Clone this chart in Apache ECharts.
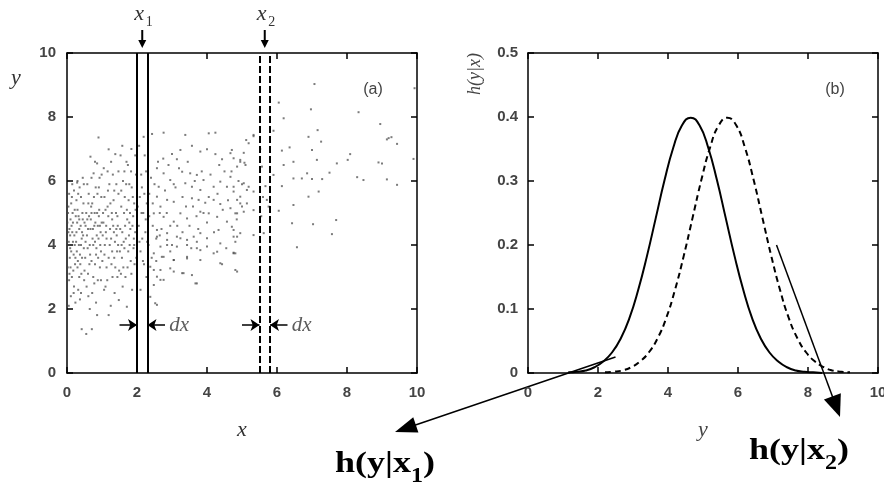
<!DOCTYPE html>
<html>
<head>
<meta charset="utf-8">
<script src="https://cdn.jsdelivr.net/npm/echarts/dist/echarts.min.js"></script>
<style>
  html, body { margin: 0; padding: 0; background: #fff; }
  #main { width: 884px; height: 486px; }
</style>
</head>
<body>
<div id="main"></div>
<script>
"use strict";

// panel (a): sample cloud
var cloudDense = [
  [0.05,4.1],[0.08,3.6],[0.1,4.8],[0.12,5.3],[0.06,2.9],[0.15,4.4],[0.18,3.2],[0.2,5.7],[0.22,4.0],[0.25,4.9],
  [0.28,3.8],[0.3,5.1],[0.32,2.6],[0.35,4.5],[0.38,3.4],[0.4,5.5],[0.42,4.2],[0.45,6.1],[0.48,3.9],[0.5,4.7],
  [0.03,5.0],[0.07,4.5],[0.09,3.9],[0.11,2.4],[0.13,4.6],[0.16,5.0],[0.19,3.7],[0.21,4.3],[0.24,2.2],[0.27,5.4],
  [0.29,4.7],[0.31,3.5],[0.34,4.0],[0.36,5.8],[0.39,4.6],[0.41,3.1],[0.44,5.0],[0.46,4.3],[0.49,2.9],[0.02,3.3],
  [0.04,4.4],[0.14,3.0],[0.17,4.7],[0.23,3.4],[0.26,4.1],[0.33,4.9],[0.37,3.7],[0.43,4.4],[0.47,5.3],[0.01,4.7],
  [0.06,5.6],[0.1,3.3],[0.2,2.7],[0.3,6.0],[0.4,2.5],[0.29,5.95],[0.42,1.37],[0.15,5.9],[0.05,2.1],[0.35,3.0],
  [0.02,4.0],[0.04,5.2],[0.07,3.1],[0.09,4.3],[0.12,3.8],[0.14,5.5],[0.17,4.1],[0.19,2.5],[0.22,5.1],[0.24,3.6],
  [0.27,4.4],[0.3,3.3],[0.32,5.6],[0.35,4.8],[0.37,2.3],[0.4,4.0],[0.43,3.6],[0.45,4.8],[0.48,5.9],[0.5,3.2],
  [0.52,3.6],[0.55,5.0],[0.57,4.3],[0.6,3.1],[0.62,5.6],[0.65,4.0],[0.67,6.76],[0.68,4.8],[0.7,3.5],[0.72,5.3],
  [0.74,4.5],[0.76,6.24],[0.78,2.8],[0.8,4.1],[0.82,5.8],[0.84,3.9],[0.86,6.55],[0.88,4.6],[0.9,7.36],[0.92,5.1],
  [0.94,3.3],[0.96,4.4],[0.98,5.5],[0.55,1.22],[0.71,1.37],[0.86,1.81],[0.53,4.6],[0.58,5.9],[0.61,2.4],[0.63,4.9],
  [0.66,3.7],[0.69,5.2],[0.73,4.2],[0.75,3.0],[0.79,5.0],[0.81,4.7],[0.83,2.2],[0.85,4.3],[0.87,5.6],[0.89,3.6],
  [0.91,4.9],[0.93,6.1],[0.95,4.0],[0.97,2.9],[0.99,4.7],[0.6,4.5],[0.7,6.1],[0.8,3.4],[0.9,4.2],[0.65,2.0],
  [0.77,5.5],[0.59,3.9],
  [0.53,4.1],[0.56,2.7],[0.58,4.8],[0.61,5.3],[0.64,3.4],[0.67,4.5],[0.7,5.0],[0.72,2.5],[0.75,4.0],[0.78,4.6],
  [0.8,6.6],[0.83,3.7],[0.86,5.0],[0.88,2.9],[0.91,5.8],[0.94,4.6],[0.97,3.8],[0.99,6.2],
  [1.02,4.3],[1.05,6.4],[1.07,3.7],[1.1,5.1],[1.12,4.6],[1.15,2.9],[1.17,5.7],[1.19,6.99],[1.19,1.81],[1.22,4.0],
  [1.24,5.3],[1.27,3.4],[1.29,4.8],[1.31,6.2],[1.34,4.4],[1.36,2.5],[1.38,6.84],[1.4,5.0],[1.43,3.8],[1.45,4.6],
  [1.47,5.6],[1.49,3.2],[1.03,5.0],[1.08,4.0],[1.13,3.3],[1.18,4.9],[1.21,5.9],[1.26,4.2],[1.3,3.0],[1.33,5.4],
  [1.37,4.1],[1.41,5.9],[1.44,4.9],[1.48,2.28],[1.06,2.6],[1.16,6.3],[1.25,2.1],[1.35,3.6],[1.42,4.3],[1.11,4.4],
  [1.28,5.0],[1.46,4.0],
  [1.01,3.5],[1.04,4.7],[1.07,5.5],[1.1,2.7],[1.13,4.2],[1.16,5.2],[1.19,3.6],[1.23,4.5],[1.26,6.6],[1.29,3.8],
  [1.32,4.6],[1.35,5.7],[1.38,3.3],[1.41,4.5],[1.44,3.0],[1.47,6.3],
  [1.52,4.5],[1.55,5.2],[1.57,3.6],[1.6,6.0],[1.62,4.1],[1.65,5.5],[1.67,3.0],[1.71,2.07],[1.72,4.8],[1.74,6.5],
  [1.77,4.3],[1.8,5.0],[1.82,3.5],[1.85,5.8],[1.87,4.6],[1.9,3.9],[1.92,5.3],[1.95,4.4],[1.97,6.2],[1.53,6.8],
  [1.56,4.0],[1.59,2.7],[1.63,5.0],[1.66,4.6],[1.69,5.9],[1.73,3.3],[1.76,5.4],[1.79,4.0],[1.83,6.3],[1.86,2.6],
  [1.89,4.9],[1.93,3.4],[1.96,5.1],[1.58,7.1],[1.7,6.6],[1.84,7.0],[1.64,3.9],[1.78,4.7],[1.91,4.2],[1.54,3.1],
  [1.51,3.8],[1.55,5.7],[1.58,4.4],[1.61,3.3],[1.64,6.3],[1.68,4.2],[1.71,5.1],[1.75,3.8],[1.78,5.9],[1.81,4.5],
  [1.84,3.1],[1.88,5.5],[1.92,4.0],[1.95,6.8],[1.98,3.6],
  [2.05,4.6],[2.08,5.5],[2.1,3.8],[2.12,6.2],[2.15,4.2],[2.18,5.0],[2.2,3.4],[2.22,6.8],[2.25,4.8],[2.27,3.0],
  [2.19,7.38],[2.06,7.1],[2.14,5.8],[2.24,4.4],[2.1,2.6],[2.28,5.3],
  [2.02,5.2],[2.07,4.1],[2.13,5.0],[2.17,3.5],[2.21,5.6],[2.26,6.3],[2.29,4.1]
];

var cloudMiddle = [
  [2.43,7.47],[2.76,7.51],[3.38,7.44],[4.05,7.49],[4.24,7.51],[5.33,7.44],[5.19,7.18],[3.57,7.1],[3.24,6.97],
  [3.0,6.84],[3.14,6.68],[3.81,6.92],[4.0,6.99],[4.24,6.84],[4.43,6.68],[4.67,6.87],[4.76,6.71],[4.95,6.6],
  [5.1,6.5],[2.57,6.4],[2.76,6.24],[2.95,6.03],[2.62,5.82],[3.29,6.29],[3.52,6.24],[3.71,6.19],[3.9,6.03],
  [3.38,5.93],[3.57,5.82],[3.81,5.72],[4.19,5.82],[4.38,5.98],[4.57,5.82],[4.76,5.67],[4.95,5.51],[5.19,5.82],
  [5.33,5.67],[2.57,5.51],[2.86,5.41],[3.05,5.35],[2.67,5.2],[3.57,5.46],[3.76,5.41],[3.95,5.32],[4.19,5.41],
  [4.38,5.28],[3.81,5.04],[4.05,4.99],[4.29,4.88],[4.67,5.15],[4.86,4.99],[4.95,5.3],[3.24,4.99],[3.43,4.83],
  [3.05,4.73],[2.76,4.88],[2.48,4.99],[4.57,4.73],[4.76,4.47],[4.95,4.37],[4.33,4.47],[3.81,4.37],[4.0,4.21],
  [2.57,4.47],[2.86,4.37],[3.14,4.26],[3.43,4.16],[3.71,4.1],[2.57,4.26],[2.86,4.16],[3.24,4.21],[3.62,4.26],
  [4.38,4.05],[4.76,4.26],[2.48,3.74],[2.76,3.63],[3.05,3.53],[3.43,3.63],[3.81,3.84],[4.19,3.74],[4.76,3.74],
  [4.43,3.4],[4.86,3.17],[2.38,3.32],[2.67,3.22],[2.95,3.27],[3.29,3.12],[3.57,3.06],[3.71,2.8],[2.48,2.75],
  [2.67,2.91],[2.57,2.13],[2.38,2.38],[2.67,3.95],[2.86,4.0],[3.14,3.95],[3.43,4.0],[3.71,3.9],[4.0,3.95],
  [4.29,3.79],[4.81,3.74],[2.71,3.63],[3.05,3.53],[3.43,3.58],[3.81,3.53],[4.38,3.43],[4.81,3.22],[2.48,3.22],
  [3.05,3.17],[3.33,3.12],[3.67,2.8],[2.57,3.01],[2.76,2.91],[2.52,2.18],
  [2.35,5.6],[2.4,6.1],[2.45,4.6],[2.5,5.9],[2.55,4.2],[2.6,6.6],[2.65,5.0],[2.7,4.5],[2.8,5.7],[2.9,6.5],
  [2.95,4.6],[3.1,5.8],[3.2,6.4],[3.3,5.5],[3.45,6.6],[3.6,5.2],[3.7,4.9],[3.85,6.3],[4.1,6.2],[4.3,5.6],
  [4.5,6.3],[4.6,5.4],[2.33,4.0],[2.42,3.6],[3.0,4.0],[3.5,4.6],[4.0,4.7],[4.9,6.0],[5.0,5.9],
  [2.35,4.9],[2.45,5.3],[2.55,3.5],[2.65,4.3],[2.75,6.7],[2.85,5.0],[2.95,3.8],[3.05,5.9],[3.15,4.6],[3.3,4.4],
  [3.4,5.2],[3.55,3.9],[3.65,6.0],[3.75,4.5],[3.9,5.0],[4.05,5.5],[4.2,4.4],[4.35,6.5],[4.45,5.1],[4.55,3.9],
  [4.7,6.3],[4.85,4.8]
];

var cloudSparse = [
  [7.07,9.03],[6.05,8.45],[6.97,8.24],[8.33,8.15],[6.19,7.96],[8.95,7.78],[7.16,7.59],[6.9,7.38],[9.14,7.3],
  [9.27,7.37],[9.43,7.16],[7.26,7.23],[6.36,7.05],[6.14,6.95],[7.0,6.97],[8.09,6.84],[7.14,6.66],[8.02,6.66],
  [7.71,6.55],[9.0,6.55],[9.9,6.69],[6.47,6.6],[6.19,6.5],[6.86,6.24],[7.5,6.26],[6.47,6.08],[7.0,6.06],
  [7.29,6.06],[8.29,6.12],[8.47,6.03],[9.14,6.05],[9.43,5.88],[6.71,6.08],[6.14,5.84],[6.9,5.51],[7.19,5.67],
  [6.47,5.25],[6.05,5.07],[6.43,4.68],[7.03,4.65],[7.69,4.78],[7.57,4.34],[6.57,3.93],[5.9,7.57],[5.12,7.28],
  [5.33,7.4],[5.05,6.88],[4.71,6.97],[4.95,6.66],[5.07,6.57],[4.86,6.45],[5.57,6.45],[5.9,6.19],[4.67,6.13],
  [4.76,5.82],[5.05,5.93],[5.14,5.72],[5.67,5.84],[4.86,5.41],[5.0,5.2],[4.81,4.99],[5.05,5.04],[5.14,5.3],
  [5.33,5.09],[5.71,5.41],[5.76,5.2],[5.62,4.37],[5.33,4.31],[4.86,4.26],[4.81,4.1],[4.71,4.57],[4.76,3.76],
  [9.93,8.9],[9.19,7.34],[8.9,6.58],[5.52,7.0],[5.6,5.5],[5.55,4.9]
];

// panel (b): conditional densities
var solidCurve = [
  [1.15,0.001],[1.40,0.002],[1.65,0.004],[1.90,0.009],[2.15,0.018],[2.40,0.032],[2.65,0.054],[2.90,0.086],
  [3.15,0.130],[3.40,0.183],[3.65,0.242],[3.90,0.301],[4.15,0.352],[4.40,0.387],[4.65,0.399],[4.90,0.387],
  [5.15,0.352],[5.40,0.301],[5.65,0.242],[5.90,0.183],[6.15,0.130],[6.40,0.086],[6.65,0.054],[6.90,0.032],
  [7.15,0.018],[7.40,0.009],[7.65,0.004],[7.90,0.002],[8.15,0.001],[8.40,0.000]
];
var dashedCurve = [
  [2.20,0.001],[2.45,0.002],[2.70,0.004],[2.95,0.009],[3.20,0.018],[3.45,0.032],[3.70,0.054],[3.95,0.086],
  [4.20,0.130],[4.45,0.183],[4.70,0.242],[4.95,0.301],[5.20,0.352],[5.45,0.387],[5.70,0.399],[5.95,0.387],
  [6.20,0.352],[6.45,0.301],[6.70,0.242],[6.95,0.183],[7.20,0.130],[7.45,0.086],[7.70,0.054],[7.95,0.032],
  [8.20,0.018],[8.45,0.009],[8.70,0.004],[8.95,0.002],[9.20,0.001]
];

var solidSlice = [2.0, 2.3];
var dashedSlice = [5.5, 5.8];
var dxLevel = 1.5;
var xTicksA = [0, 10, 2];
var yTicksA = [0, 10, 2];
var yTicksB = [0, 0.5, 0.1];

var labelFont = { fontFamily: 'Liberation Sans', fontSize: 15, fontWeight: 'bold', color: '#444' };
var serifItalic = 'italic 22px "Liberation Serif"';

var axisBase = function(grid, pos, range, showLabel, margin) {
  return {
    type: 'value', gridIndex: grid, position: pos,
    min: range[0], max: range[1], interval: range[2],
    axisLine: { show: true, onZero: false, lineStyle: { color: '#000', width: 1.5 } },
    axisTick: { show: true, inside: true, length: 6, lineStyle: { color: '#000', width: 1.5 } },
    axisLabel: Object.assign({ show: showLabel, margin: margin }, labelFont),
    splitLine: { show: false }
  };
};

var xA = axisBase(0, 'bottom', xTicksA, true, 12);
xA.name = 'x';
xA.nameLocation = 'middle';
xA.nameGap = 46;
xA.nameTextStyle = { fontFamily: 'Liberation Serif', fontStyle: 'italic', fontSize: 22, color: '#333' };
var xB = axisBase(1, 'bottom', xTicksA, true, 12);
xB.name = 'y';
xB.nameLocation = 'middle';
xB.nameGap = 46;
xB.nameTextStyle = { fontFamily: 'Liberation Serif', fontStyle: 'italic', fontSize: 22, color: '#444' };

var sliceLine = function(x, dashed) {
  return { xAxis: x, lineStyle: { color: '#000', width: 2, type: dashed ? [7, 3] : 'solid' } };
};
var dxArrow = function(from, to) {
  return [
    { coord: [from, dxLevel], symbol: 'none' },
    { coord: [to, dxLevel], symbol: 'arrow', symbolSize: [9, 9] }
  ];
};

var option = {
  animation: false,
  backgroundColor: '#fff',
  grid: [
    { left: 67, top: 53, width: 350, height: 320, containLabel: false, outerBoundsMode: 'none' },
    { left: 528, top: 53, width: 350, height: 320, containLabel: false, outerBoundsMode: 'none' }
  ],
  xAxis: [
    xA,
    axisBase(0, 'top', xTicksA, false, 8),
    xB,
    axisBase(1, 'top', xTicksA, false, 8)
  ],
  yAxis: [
    axisBase(0, 'left', yTicksA, true, 11),
    axisBase(0, 'right', yTicksA, false, 8),
    axisBase(1, 'left', yTicksB, true, 10),
    axisBase(1, 'right', yTicksB, false, 8)
  ],
  series: [
    {
      name: 'samples', type: 'scatter', xAxisIndex: 0, yAxisIndex: 0,
      data: cloudDense.concat(cloudMiddle, cloudSparse),
      symbol: 'rect', symbolSize: 2,
      itemStyle: { color: '#444', opacity: 0.7 },
      silent: true,
      markLine: {
        silent: true, symbol: 'none', animation: false,
        label: { show: false },
        data: [
          sliceLine(solidSlice[0], false), sliceLine(solidSlice[1], false),
          sliceLine(dashedSlice[0], true), sliceLine(dashedSlice[1], true)
        ]
      }
    },
    {
      name: 'dx', type: 'scatter', xAxisIndex: 0, yAxisIndex: 0,
      data: [[solidSlice[1] + 0.62, dxLevel], [dashedSlice[1] + 0.62, dxLevel]],
      symbolSize: 0, silent: true,
      label: {
        show: true, position: 'right', distance: 0, formatter: 'dx',
        fontFamily: 'Liberation Serif', fontStyle: 'italic', fontSize: 21, color: '#333'
      },
      markLine: {
        silent: true, animation: false,
        label: { show: false },
        lineStyle: { color: '#000', width: 1.5, type: 'solid' },
        data: [
          dxArrow(1.5, solidSlice[0]), dxArrow(2.8, solidSlice[1]),
          dxArrow(5.0, dashedSlice[0]), dxArrow(6.3, dashedSlice[1])
        ]
      }
    },
    {
      name: 'h(y|x1)', type: 'line', xAxisIndex: 2, yAxisIndex: 2,
      data: solidCurve, smooth: true, showSymbol: false, silent: true,
      lineStyle: { color: '#000', width: 2 }
    },
    {
      name: 'h(y|x2)', type: 'line', xAxisIndex: 2, yAxisIndex: 2,
      data: dashedCurve, smooth: true, showSymbol: false, silent: true,
      lineStyle: { color: '#000', width: 2, type: [6, 4] }
    }
  ]
};

var chart = echarts.init(document.getElementById('main'));
chart.setOption(option);

var arrow = function(x1, y1, x2, y2, len, half, width) {
  var a = Math.atan2(y2 - y1, x2 - x1);
  var bx = x2 - len * Math.cos(a);
  var by = y2 - len * Math.sin(a);
  var nx = -Math.sin(a) * half;
  var ny = Math.cos(a) * half;
  return [
    { type: 'line', silent: true, shape: { x1: x1, y1: y1, x2: bx + (x2 - bx) * 0.3, y2: by + (y2 - by) * 0.3 },
      style: { stroke: '#000', lineWidth: width } },
    { type: 'polygon', silent: true, shape: { points: [[x2, y2], [bx + nx, by + ny], [bx - nx, by - ny]] },
      style: { fill: '#000' } }
  ];
};

var text = function(x, y, str, font, color, extra) {
  var el = {
    type: 'text', x: x, y: y, silent: true,
    style: { text: str, font: font, fill: color || '#333',
      align: 'center', verticalAlign: 'middle', textAlign: 'center', textVerticalAlign: 'middle' }
  };
  return Object.assign(el, extra || {});
};

var px = function(grid, pt) {
  return chart.convertToPixel({ gridIndex: grid }, pt);
};

var g = [];
// x1 / x2 markers above panel (a)
[[(solidSlice[0] + solidSlice[1]) / 2, '1'], [(dashedSlice[0] + dashedSlice[1]) / 2, '2']].forEach(function(m) {
  var p = px(0, [m[0], 10]);
  g.push(text(p[0] - 3, 14, 'x', serifItalic, '#333'));
  g.push(text(p[0] + 7, 22, m[1], '14px "Liberation Serif"', '#333'));
  g = g.concat(arrow(p[0], 30, p[0], 48, 8, 4, 2));
});

// panel labels and y names
g.push(text(373, 90, '(a)', '16px "Liberation Sans"', '#444'));
g.push(text(835, 90, '(b)', '16px "Liberation Sans"', '#444'));
g.push(text(16, 78, 'y', serifItalic, '#333'));
g.push(text(475, 74, 'h(y|x)', 'italic 18px "Liberation Serif"', '#444', { rotation: Math.PI / 2 }));

// callouts
var big = function(label, sub) {
  return {
    text: '{m|' + label + '}{s|' + sub + '}{m|)}',
    rich: {
      m: { font: 'bold 30px "Liberation Serif"', fill: '#000', lineHeight: 30, padding: [0, 0, 7, 0] },
      s: { font: 'bold 20px "Liberation Serif"', fill: '#000', lineHeight: 20, padding: [17, 0, 0, 0] }
    },
    fill: '#000', align: 'center', verticalAlign: 'middle', textAlign: 'center', textVerticalAlign: 'middle'
  };
};
var s1 = px(1, [2.5, 0.025]);
g = g.concat(arrow(s1[0], s1[1], 395, 432, 22, 8, 1.5));
g.push({ type: 'text', x: 385, y: 468, scaleX: 1.2, silent: true, style: big('h(y|x', '1') });
var s2 = px(1, [7.1, 0.2]);
g = g.concat(arrow(s2[0], s2[1], 840, 417, 22, 9, 1.5));
g.push({ type: 'text', x: 799, y: 455, scaleX: 1.2, silent: true, style: big('h(y|x', '2') });

chart.setOption({ graphic: g });
</script>
</body>
</html>
